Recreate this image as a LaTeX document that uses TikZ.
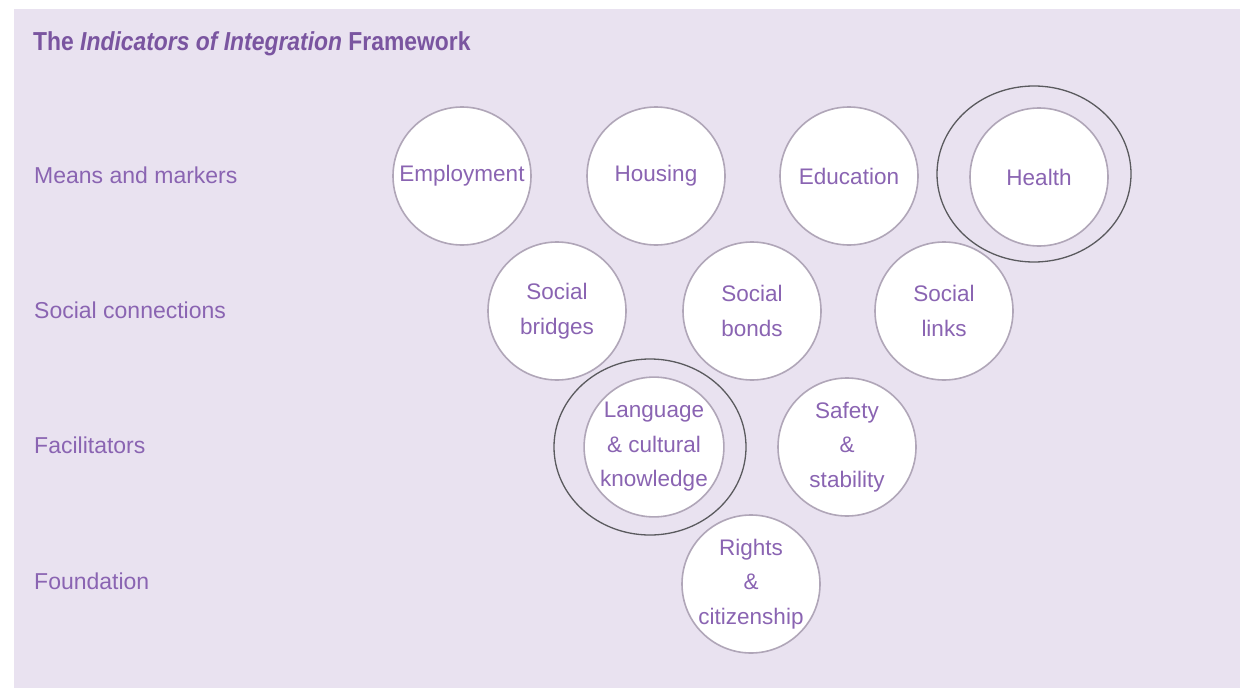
\documentclass[tikz,border=0pt]{standalone}
\usepackage{fontspec}
\setmainfont{Liberation Sans}
\definecolor{bgl}{HTML}{E9E2F0}
\definecolor{txt}{HTML}{8A64B2}
\definecolor{ttl}{HTML}{7A55A0}
\definecolor{ring}{HTML}{B0A6B8}
\definecolor{hl}{HTML}{5A5A5E}
\begin{document}
\begin{tikzpicture}[x=1pt,y=-1pt,
  ind/.style={circle,draw=ring,line width=1.6pt,fill=white,minimum size=138pt,inner sep=0pt,
    align=center,text=txt,font=\fontsize{22.5}{34.5}\selectfont},
  lvl/.style={anchor=west,text=txt,font=\fontsize{23}{27}\selectfont,inner sep=0pt},
  hiring/.style={draw=hl,line width=1.3pt}]
\useasboundingbox (0,0) rectangle (1240,688);
\fill[bgl] (14,9) rectangle (1240,688);
\node[anchor=west,inner sep=0pt,text=ttl,font=\fontsize{26}{30}\selectfont\bfseries] (title) at (33,44)
  {\scalebox{0.88}[1]{The \textit{Indicators of Integration} Framework}};
\node[lvl] (l1) at (34,175) {Means and markers};
\node[lvl] (l2) at (34,310) {Social connections};
\node[lvl] (l3) at (34,445) {Facilitators};
\node[lvl] (l4) at (34,581) {Foundation};
\node[ind] (emp) at (462,176) {Employment};
\node[ind] (hou) at (656,176) {Housing};
\node[ind] (edu) at (849,176) {Education};
\node[ind] (hea) at (1039,177) {Health};
\node[ind] (sbr) at (557,311) {Social\\bridges};
\node[ind] (sbo) at (752,311) {Social\\bonds};
\node[ind] (sli) at (944,311) {Social\\links};
\node[ind] (lan) at (654,447) {Language\\\& cultural\\knowledge};
\node[ind] (saf) at (847,447) {Safety\\\&\\stability};
\node[ind] (rig) at (751,584) {Rights\\\&\\citizenship};
\draw[hiring] (1034,174) ellipse [x radius=97pt, y radius=88pt];
\draw[hiring] (650,447) ellipse [x radius=96pt, y radius=88pt];
\end{tikzpicture}
\end{document}
